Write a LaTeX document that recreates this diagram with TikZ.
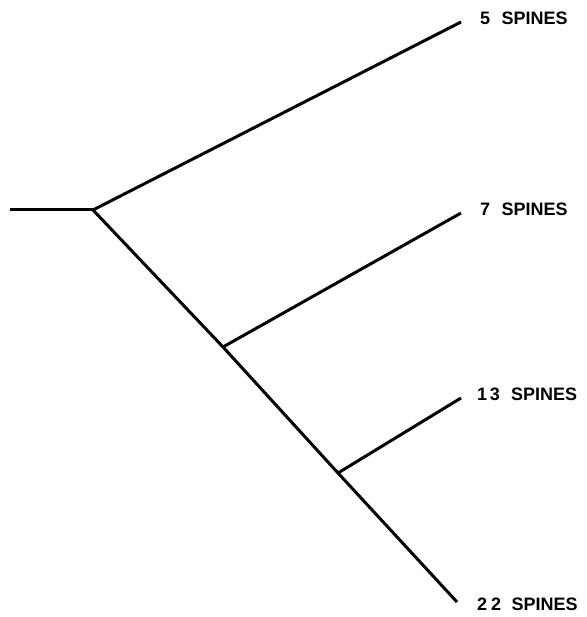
\documentclass[tikz,border=0pt]{standalone}
\usepackage{fontspec}
\setmainfont{Liberation Sans}
\begin{document}
\begin{tikzpicture}[x=1pt,y=-1pt,
  branch/.style={line width=3pt,line cap=butt},
  taxon/.style={anchor=west,inner sep=0pt,font=\fontsize{18}{18}\selectfont\bfseries}]
\useasboundingbox (0,0) rectangle (586,617);
% internal nodes and leaf ends
\coordinate (stem) at (10,210);
\coordinate (n1) at (93,210);
\coordinate (n2) at (223,347);
\coordinate (n3) at (338,473);
\coordinate (t5) at (461,22);
\coordinate (t7) at (461,213);
\coordinate (t13) at (461,398);
\coordinate (t22) at (457,602);
% branches
\draw[branch] (stem) -- (n1);
\draw[branch] (n1) -- (t5);
\draw[branch] (n1) -- (n2) -- (n3) -- (t22);
\draw[branch] (n2) -- (t7);
\draw[branch] (n3) -- (t13);
% labels
\node[taxon] (l5) at (480,18) {5\hspace{0.35em} SPINES};
\node[taxon] (l7) at (480,209) {7\hspace{0.35em} SPINES};
\node[taxon] (l13) at (477,394) {1\hspace{0.15em}3\hspace{0.35em} SPINES};
\node[taxon] (l22) at (477,604) {2\hspace{0.22em}2\hspace{0.3em} SPINES};
\end{tikzpicture}
\end{document}
